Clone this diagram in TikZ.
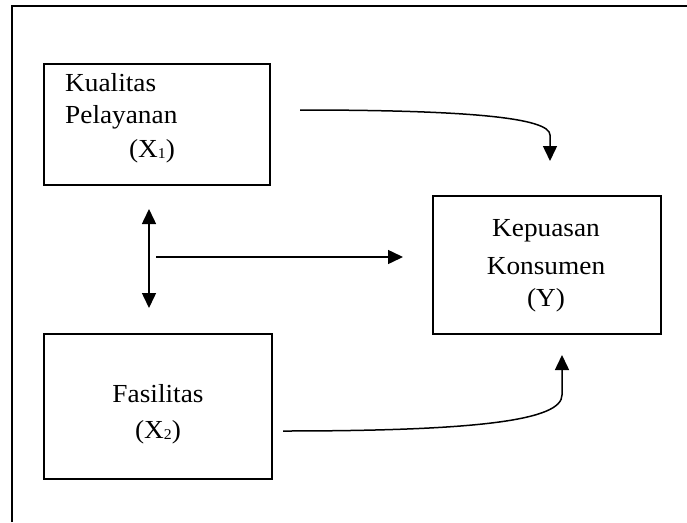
\documentclass[tikz,border=0pt]{standalone}
\usepackage{fontspec}
\setmainfont{Liberation Serif}
\usetikzlibrary{arrows.meta}
\newcommand{\subn}[1]{{\fontsize{15}{15}\selectfont\raisebox{-1.5pt}{#1}}}
\begin{document}
\begin{tikzpicture}[x=1pt,y=-1pt,
  boxframe/.style={draw,line width=2pt},
  txt/.style={font=\fontsize{26}{34}\selectfont,inner sep=0pt,xscale=1.05,transform shape},
  conn/.style={line width=1.5pt,-{Triangle[width=14pt,length=15pt]}},
  dconn/.style={line width=1.5pt,{Triangle[width=14pt,length=15pt]}-{Triangle[width=14pt,length=15pt]}}]
\useasboundingbox (0,0) rectangle (687,522);
% outer frame (left and top only visible)
\draw[line width=2.5pt] (12,522) -- (12,6) -- (687,6);
% boxes
\draw[boxframe] (44,64) rectangle (270,185);
\draw[boxframe] (44,334) rectangle (272,479);
\draw[boxframe] (433,196) rectangle (661,334);
% texts
\node[txt,anchor=west] (t1a) at (65,83) {Kualitas};
\node[txt,anchor=west] (t1b) at (65,117) {Pelayanan};
\node[txt] (t1c) at (152,151) {(X\subn{1})};
\node[txt] (t2a) at (158,394) {Fasilitas};
\node[txt] (t2b) at (158,432) {(X\subn{2})};
\node[txt] (tya) at (546,231) {Kepuasan};
\node[txt] (tyb) at (546,266) {Konsumen};
\node[txt] (tyc) at (546,300) {(Y)};
% connector end points
\coordinate (a1s) at (300,110);
\coordinate (a1e) at (550,161);
\coordinate (a2s) at (283,431);
\coordinate (a2e) at (562,355);
\coordinate (d1) at (149,209);
\coordinate (d2) at (149,308);
\coordinate (h1) at (156,257);
\coordinate (h2) at (403,257);
% connectors
\draw[conn] (a1s) .. controls (470,110) and (550,118) .. (550,135) -- (a1e);
\draw[conn] (a2s) .. controls (480,431) and (562,420) .. (562,395) -- (a2e);
\draw[dconn] (d1) -- (d2);
\draw[conn] (h1) -- (h2);
\end{tikzpicture}
\end{document}
